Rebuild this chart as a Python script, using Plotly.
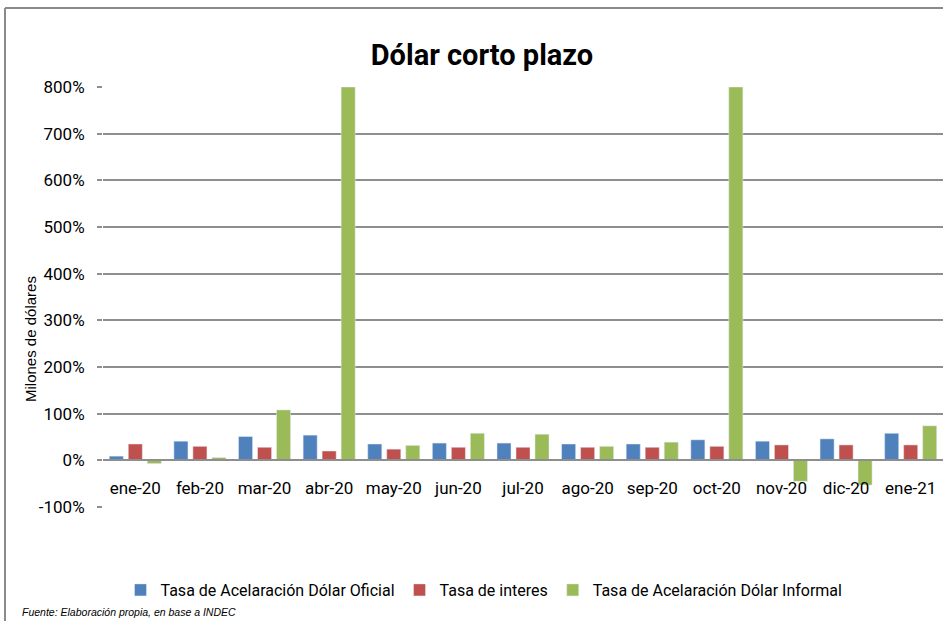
import plotly.graph_objects as go

categories = ["ene-20", "feb-20", "mar-20", "abr-20", "may-20", "jun-20", "jul-20",
              "ago-20", "sep-20", "oct-20", "nov-20", "dic-20", "ene-21"]
oficial = [9, 41, 51, 54, 35, 37, 37, 35, 35, 44, 41, 46, 58]
interes = [35, 30, 28, 20, 24, 28, 28, 28, 28, 30, 33, 33, 33]
informal = [-7, 6, 108, 800, 32, 58, 56, 30, 39, 800, -45, -53, 74]
y_ticks = [-100, 0, 100, 200, 300, 400, 500, 600, 700, 800]
y_labels = [f"{v}%" for v in y_ticks]

FONT = "Roboto, Liberation Sans, sans-serif"
W, H = 943, 621
ML, MR, MT, MB = 103, 0, 87, 114
PW, PH = W - ML - MR, H - MT - MB

def px_x(x):
    return (x - ML) / PW

def px_y(y):
    return 1 - (y - MT) / PH

fig = go.Figure()
fig.add_bar(x=categories, y=oficial, name="Tasa de Acelaración Dólar Oficial", marker_color="#4F81BD")
fig.add_bar(x=categories, y=interes, name="Tasa de interes", marker_color="#C0504D")
fig.add_bar(x=categories, y=informal, name="Tasa de Acelaración Dólar Informal", marker_color="#9BBB59")

zero_pos = (0 - y_ticks[0]) / (y_ticks[-1] - y_ticks[0])

fig.update_layout(
    width=W, height=H,
    margin=dict(l=ML, r=MR, t=MT, b=MB, pad=0),
    paper_bgcolor="white", plot_bgcolor="white",
    barmode="group", bargap=0.118, bargroupgap=0.26,
    title=dict(text="<b>Dólar corto plazo</b>", x=482 / W, xanchor="center",
               y=1 - 55 / H, yanchor="middle",
               font=dict(family=FONT, size=29, color="black")),
    font=dict(family=FONT, color="black"),
    showlegend=True,
    legend=dict(orientation="h", x=px_x(484), xanchor="center", y=px_y(590), yanchor="middle",
                font=dict(family=FONT, size=16, color="black"), bgcolor="rgba(0,0,0,0)"),
    xaxis=dict(anchor="free", position=zero_pos, showline=True, linecolor="#8e8e8e", linewidth=2,
               ticks="", tickfont=dict(family=FONT, size=17, color="black"),
               ticklabelstandoff=12, showgrid=False, zeroline=False),
    yaxis=dict(range=[y_ticks[0], y_ticks[-1]], tickvals=y_ticks, ticktext=y_labels,
               showgrid=True, gridcolor="#8e8e8e", gridwidth=2, zeroline=False,
               ticks="outside", ticklen=5, tickcolor="#8e8e8e", tickwidth=1.5,
               ticklabelstandoff=9,
               tickfont=dict(family=FONT, size=17, color="black"), showline=False),
)

fig.add_annotation(text="Milones de dólares", xref="paper", yref="paper",
                   x=px_x(30), y=px_y(339), textangle=-90, showarrow=False,
                   xanchor="center", yanchor="middle",
                   font=dict(family="Liberation Sans, Arial, sans-serif", size=15, color="black"))
fig.add_annotation(text="<i>Fuente: Elaboración propia, en base a INDEC</i>", xref="paper", yref="paper",
                   x=px_x(20), y=px_y(612), showarrow=False, xanchor="left", yanchor="middle",
                   font=dict(family="Liberation Sans, Arial, sans-serif", size=10.5, color="black"))

# chart frame (top and left edges visible)
fig.add_shape(type="line", xref="paper", yref="paper", x0=px_x(5), x1=px_x(945), y0=px_y(8), y1=px_y(8),
              line=dict(color="#8a8a8a", width=2))
fig.add_shape(type="line", xref="paper", yref="paper", x0=px_x(5), x1=px_x(5), y0=px_y(8), y1=px_y(625),
              line=dict(color="#8a8a8a", width=2))

fig.write_html("out.html", config={"displayModeBar": False},
               post_script="document.body.style.margin='0';")
